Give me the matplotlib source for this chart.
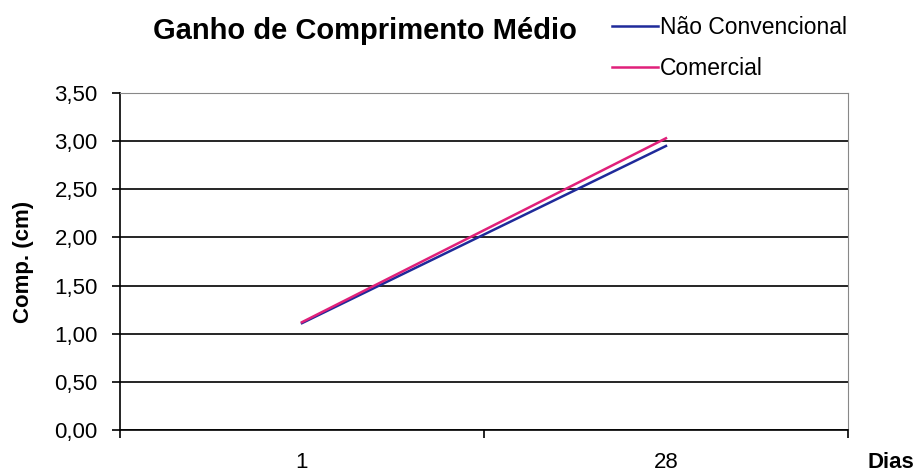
import matplotlib.pyplot as plt
from matplotlib.ticker import FuncFormatter

plt.rcParams['font.family'] = ['Liberation Sans', 'DejaVu Sans']

# dados
dias = ["1", "28"]
nao_convencional = [1.11, 2.95]
comercial = [1.12, 3.03]

fig = plt.figure(figsize=(9.2, 4.76), dpi=100)
ax = fig.add_axes([0.1304, 0.0966, 0.7913, 0.708])

pos = [i + 0.5 for i in range(len(dias))]
l1, = ax.plot(pos, nao_convencional, color="#1f2a9a", lw=1.8, label="Não Convencional")
l2, = ax.plot(pos, comercial, color="#e0207a", lw=1.8, label="Comercial")

ax.set_xlim(0, len(dias))
ax.set_ylim(0, 3.5)
ax.set_yticks([i * 0.5 for i in range(8)])
ax.yaxis.set_major_formatter(FuncFormatter(lambda v, p: f"{v:.2f}".replace(".", ",")))
ax.grid(axis="y", color="black", lw=1.2)
ax.set_axisbelow(True)

# ticks nos limites das categorias, rótulos no centro
ax.set_xticks(range(len(dias) + 1))
ax.set_xticklabels([])
ax.set_xticks(pos, minor=True)
ax.set_xticklabels(dias, minor=True, fontsize=16)
ax.tick_params(axis="x", which="minor", length=0, pad=16)
ax.tick_params(axis="x", which="major", length=6, width=1.2, direction="out")
ax.tick_params(axis="y", labelsize=16, length=6, width=1.2, pad=10)

for s in ["left", "bottom"]:
    ax.spines[s].set_color("black")
    ax.spines[s].set_linewidth(1.2)
for s in ["top", "right"]:
    ax.spines[s].set_color("#888888")
    ax.spines[s].set_linewidth(0.8)

ax.set_ylabel("Comp. (cm)", fontsize=16, fontweight="bold", va="center")
ax.yaxis.set_label_coords(-0.133, 0.5)
fig.text(0.968, 0.029, "Dias", fontsize=16, fontweight="bold", ha="center", va="center")
fig.text(0.397, 0.935, "Ganho de Comprimento Médio", fontsize=21, fontweight="bold",
         ha="center", va="center")

fig.legend(handles=[l1, l2], loc="upper left", bbox_to_anchor=(0.643, 1.009),
           frameon=False, fontsize=16.5, handlelength=2.0, handletextpad=0.1,
           labelspacing=0.75)

fig.savefig("out.png", dpi=100)
